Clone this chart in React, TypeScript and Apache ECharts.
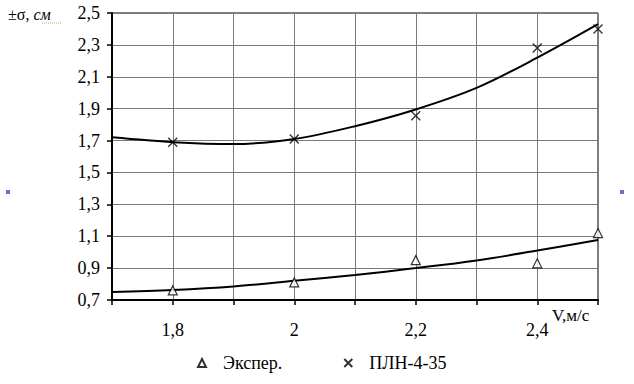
import React, { useEffect, useRef } from "react";
import * as echarts from "echarts";

// Measured points
const pointX = [1.8, 2.0, 2.2, 2.4, 2.5];
const experValues = [0.76, 0.81, 0.95, 0.93, 1.12];
const plnValues = [1.69, 1.71, 1.855, 2.28, 2.4];

// Trend curves at each 0.1
const trendX = [1.7, 1.8, 1.9, 2.0, 2.1, 2.2, 2.3, 2.4, 2.5];
const plnTrend = [1.72, 1.69, 1.678, 1.71, 1.79, 1.895, 2.03, 2.22, 2.43];
const experTrend = [0.75, 0.763, 0.785, 0.82, 0.857, 0.9, 0.948, 1.01, 1.076];

const experName = "Экспер.";
const plnName = "ПЛН-4-35";
const xAxisTitle = "V,м/с";

const FONT = "Liberation Serif, DejaVu Serif, Times New Roman, serif";
const CROSS = "path://M0,0L10,10M10,0L0,10";

export default function App() {
  const ref = useRef<HTMLDivElement>(null);
  useEffect(() => {
    if (!ref.current) return;
    const chart = echarts.init(ref.current, null, { renderer: "svg" });
    const zip = (xs: number[], ys: number[]) => xs.map((x, i) => [x, ys[i]]);
    chart.setOption({
      animation: false,
      backgroundColor: "#ffffff",
      textStyle: { fontFamily: FONT, color: "#000" },
      grid: {
        left: 112,
        right: 36,
        top: 13,
        bottom: 84,
        show: true,
        borderColor: "#000",
        borderWidth: 1,
      },
      xAxis: {
        type: "value",
        min: 1.7,
        max: 2.5,
        interval: 0.1,
        axisLine: { show: true, lineStyle: { color: "#000", width: 2 } },
        axisTick: { show: true, length: 5, lineStyle: { color: "#000", width: 1.5 } },
        axisLabel: {
          margin: 21,
          fontSize: 18,
          fontFamily: FONT,
          color: "#000",
          formatter: (v: number) => {
            const k = Math.round(v * 10);
            return k % 2 === 0 ? String(k / 10).replace(".", ",") : "";
          },
        },
        splitLine: { show: true, lineStyle: { color: "#7a7a7a", width: 1 } },
      },
      yAxis: {
        type: "value",
        min: 0.7,
        max: 2.5,
        interval: 0.2,
        axisLine: { show: true, lineStyle: { color: "#000", width: 2 } },
        axisTick: { show: true, length: 5, lineStyle: { color: "#000", width: 1.5 } },
        axisLabel: {
          margin: 12,
          fontSize: 18,
          fontFamily: FONT,
          color: "#000",
          formatter: (v: number) => v.toFixed(1).replace(".", ","),
        },
        splitLine: { show: true, lineStyle: { color: "#7a7a7a", width: 1 } },
      },
      legend: {
        left: 192,
        top: 349,
        itemGap: 61,
        itemWidth: 8,
        itemHeight: 8,
        textStyle: { fontSize: 18, fontFamily: FONT, color: "#000", padding: [0, 0, 0, 12] },
        data: [
          { name: experName, icon: "triangle" },
          { name: plnName, icon: CROSS },
        ],
      },
      series: [
        {
          type: "line",
          name: "trend1",
          data: zip(trendX, plnTrend),
          smooth: 0.35,
          showSymbol: false,
          symbol: "none",
          lineStyle: { color: "#000", width: 2 },
          silent: true,
          z: 2,
        },
        {
          type: "line",
          name: "trend2",
          data: zip(trendX, experTrend),
          smooth: 0.35,
          showSymbol: false,
          symbol: "none",
          lineStyle: { color: "#000", width: 2 },
          silent: true,
          z: 2,
        },
        {
          type: "scatter",
          name: experName,
          data: zip(pointX, experValues),
          symbol: "triangle",
          symbolSize: 9,
          itemStyle: { color: "#fff", borderColor: "#000", borderWidth: 1.2 },
          z: 3,
        },
        {
          type: "scatter",
          name: plnName,
          data: zip(pointX, plnValues),
          symbol: CROSS,
          symbolSize: 9,
          itemStyle: { color: "transparent", borderColor: "#000", borderWidth: 1.4 },
          z: 3,
        },
      ],
      graphic: [
        {
          type: "text",
          left: 8,
          top: 6,
          style: {
            text: "{a|±σ, }{b|см}",
            rich: {
              a: { fontSize: 16, fontFamily: FONT, fill: "#000" },
              b: { fontSize: 16, fontFamily: FONT, fontStyle: "italic", fill: "#000" },
            },
          },
        },
        {
          type: "line",
          shape: { x1: 42, y1: 23, x2: 62, y2: 23 },
          style: { stroke: "#8cc36e", lineWidth: 1, lineDash: [1, 1] },
        },
        {
          type: "text",
          left: 552,
          top: 307,
          style: { text: xAxisTitle, fontSize: 17, fontFamily: FONT, fill: "#000" },
        },
        {
          type: "rect",
          shape: { x: 6, y: 190, width: 4, height: 4 },
          style: { fill: "#6674b8" },
        },
        {
          type: "rect",
          shape: { x: 620, y: 190, width: 4, height: 4 },
          style: { fill: "#6674b8" },
        },
      ],
    });
    return () => chart.dispose();
  }, []);
  return <div ref={ref} style={{ width: 634, height: 384, position: "absolute", left: 0, top: 0 }} />;
}
